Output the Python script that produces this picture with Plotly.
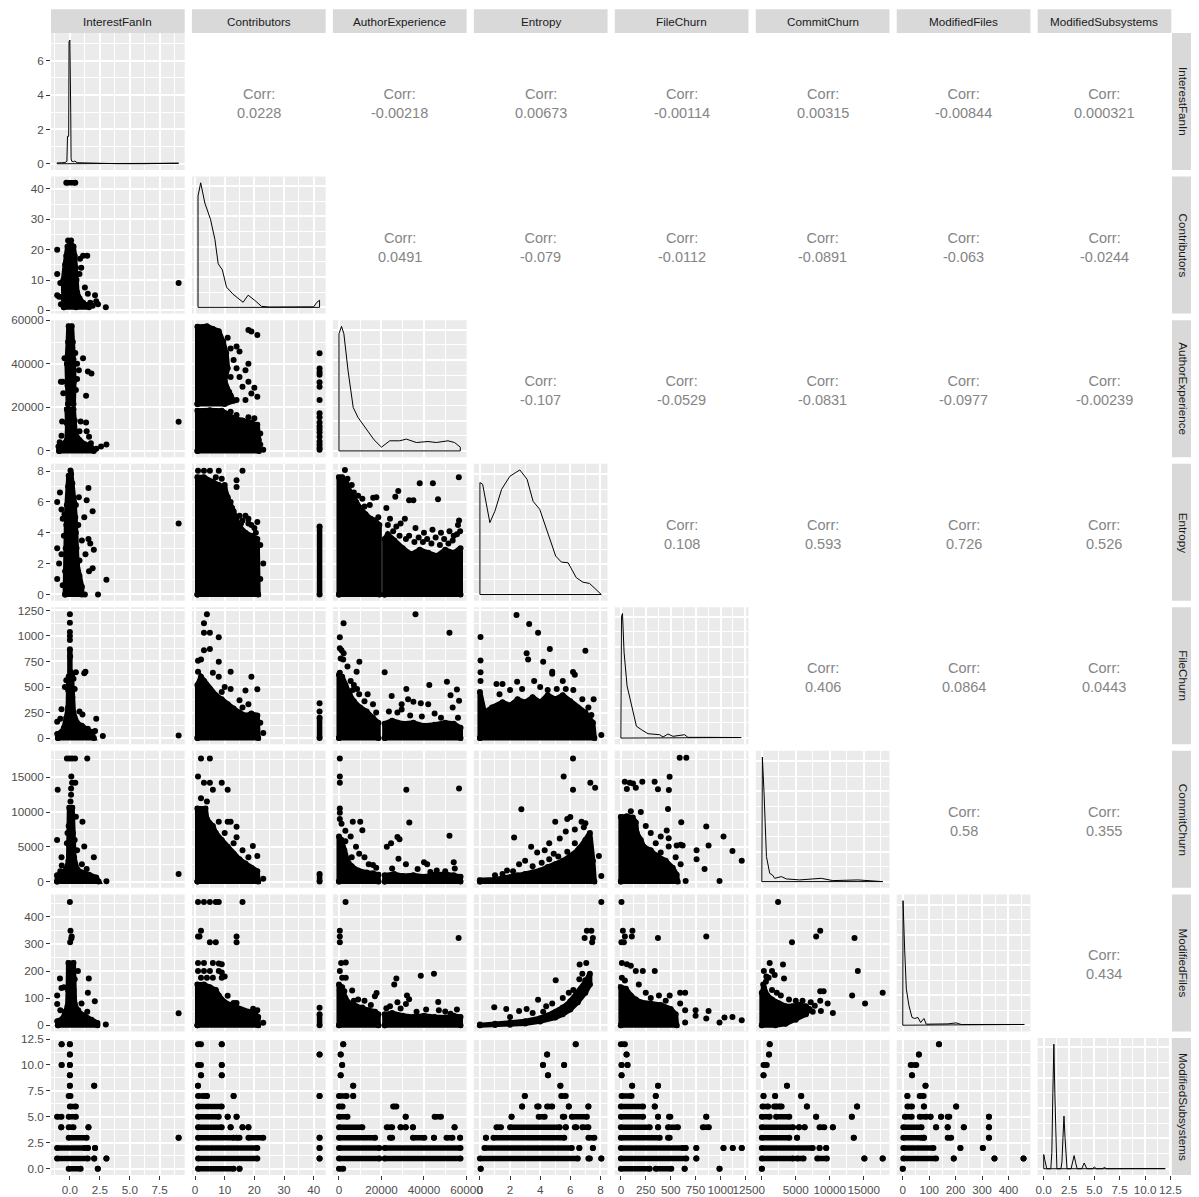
import plotly.graph_objects as go

# page offset of the plot div (default body margin) and figure size
OFF = 8.0
FW, FH = 1191, 1189

# ---------------- variables / scales ----------------
VARS = ["InterestFanIn", "Contributors", "AuthorExperience", "Entropy",
        "FileChurn", "CommitChurn", "ModifiedFiles", "ModifiedSubsystems"]
VAR_MIN = [-1.07, 1, 0, 0, 0, 0, 0, 0]
VAR_MAX = [9.08, 42, 57200, 8.07, 1220, 17900, 460, 12]
MAJOR = [2.5, 10, 20000, 2, 250, 5000, 100, 2.5]
TICKFMT = [".1f", "d", "d", "d", "d", "d", "d", ".1f"]

# ---------------- correlations (upper triangle, row by row) ----------------
corr_row0 = ["0.0228", "-0.00218", "0.00673", "-0.00114", "0.00315", "-0.00844", "0.000321"]
corr_row1 = ["0.0491", "-0.079", "-0.0112", "-0.0891", "-0.063", "-0.0244"]
corr_row2 = ["-0.107", "-0.0529", "-0.0831", "-0.0977", "-0.00239"]
corr_row3 = ["0.108", "0.593", "0.726", "0.526"]
corr_row4 = ["0.406", "0.0864", "0.0443"]
corr_row5 = ["0.58", "0.355"]
corr_row6 = ["0.434"]

# ---------------- diagonal densities ----------------
dens_I_x = [-1.07, -0.7, -0.4, -0.25, -0.2, -0.1, -0.07, 0.0, 0.02, 0.07, 0.1, 0.15, 0.3, 0.42, 0.6, 1.0,
            1.5, 2.0, 2.5, 3.0, 4.0, 6.0, 8.5, 8.9, 9.08]
dens_I_y = [0.05, 0.06, 0.07, 0.15, 1.6, 1.6, 7.1, 7.2, 3.1, 3.0, 0.3, 0.15, 0.12, 0.16, 0.06, 0.05,
            0.05, 0.04, 0.02, 0.01, 0.005, 0.003, 0.003, 0.03, 0.03]
dens_C_x = [1, 1.9, 3.3, 5.2, 6.7, 7.8, 9.2, 10.6, 12.8, 16.2, 17.9, 20.1, 22.4, 25, 30, 35, 40, 41.1, 42]
dens_C_y = [110, 123, 103, 87, 67, 43, 37, 20, 13, 5, 12, 7, 1, 0.3, 0.2, 0.2, 0.5, 5, 7]
dens_A_x = [0, 1200, 2300, 4300, 6700, 9000, 13700, 16500, 20000, 23900, 28600, 31700, 36400, 41900,
            45800, 51300, 54400, 57100]
dens_A_y = [116, 123.3, 116, 79, 43, 33, 19, 11, 3.7, 10, 10, 11.7, 8.3, 9.3, 8.3, 10, 8.3, 3.7]
dens_E_x = [0, 0.18, 0.4, 0.66, 0.99, 1.44, 1.99, 2.65, 3.13, 3.53, 3.97, 4.52, 5.03, 5.41, 5.85, 6.40,
            6.84, 7.28, 7.73, 8.06]
dens_E_y = [111.7, 110, 92, 71.7, 83, 105, 118, 124.3, 115, 93, 85, 61.7, 38.3, 32.3, 31.7, 16.7,
            12.3, 11, 5, 1]
dens_F_x = [0, 6, 16, 32, 62, 106, 156, 206, 272, 390, 423, 473, 523, 640, 673, 857, 1040, 1208]
dens_F_y = [110, 120, 123.3, 85, 51.7, 31.7, 11.7, 8.3, 4.3, 3.3, 1, 4, 1.7, 3.3, 0.7, 0.7, 0.7, 0.5]
dens_K_x = [0, 80, 330, 680, 1160, 1550, 1900, 2880, 3610, 5570, 8760, 10460, 14130, 17800]
dens_K_y = [121.7, 124.3, 88, 25, 8.3, 6.7, 3.3, 5, 2.7, 1.7, 3.3, 1, 1.7, 0.7]
dens_M_x = [0, 1, 7, 13.5, 23.5, 35, 45, 57.5, 67.6, 80, 89, 133, 171, 202, 221, 303, 322, 460]
dens_M_y = [99, 124.3, 76, 36, 19.3, 7.7, 6.7, 7.7, 2.7, 6.7, 1, 1, 1.3, 2.3, 0.7, 0.7, 0.7, 0.7]
dens_S_x = [0, 0.1, 0.2, 0.3, 0.7, 0.8, 0.9, 1.0, 1.1, 1.2, 1.3, 1.7, 1.8, 1.9, 2.0, 2.1, 2.2, 2.3,
            2.7, 2.85, 3.0, 3.15, 3.3, 3.75, 4.0, 4.25, 4.8, 5.0, 5.2, 5.8, 6.0, 6.2, 7, 9, 12]
dens_S_y = [14, 9, 2, 0, 0, 16, 74, 123, 74, 16, 0, 0, 7, 31, 52, 31, 7, 0,
            0, 6, 13, 6, 0, 0, 5.7, 0, 0, 1.7, 0, 0, 1.3, 0, 0.2, 0.1, 0.1]

# ---------------- lower panels: dense clouds (polygons), single points, bars ----------------
# row Contributors / col InterestFanIn
C_I_blob = [(-0.5, 1), (-0.55, 4), (-0.55, 10), (-0.4, 15), (-0.3, 18), (-0.2, 21), (0.05, 22), (0.3, 21),
            (0.4, 18), (0.5, 14), (0.55, 10), (0.6, 6), (0.8, 4), (1.1, 2.5), (1.4, 1.8), (1.6, 1), (0.5, 1)]
C_I_pts = [(-1.06, 20), (-1.06, 12), (-0.8, 9), (-1.06, 5), (-0.9, 4.5), (-0.75, 2), (-0.15, 23), (0.1, 23),
           (1.1, 18), (1.45, 18), (0.95, 14), (1.25, 7.5), (1.5, 5.5), (2.1, 5), (2.2, 3), (2.35, 2), (3.0, 1),
           (9.08, 9), (0.8, 12), (0.85, 17), (1.9, 1.5), (1.7, 2.5)]
C_I_hbar = [(42, -0.3, 0.45)]

# row AuthorExperience / col InterestFanIn
A_I_blob1 = [(-0.15, 21500), (-0.2, 30000), (-0.25, 40000), (-0.15, 50000), (-0.1, 57200), (0.15, 57200),
             (0.25, 50000), (0.3, 42000), (0.35, 32000), (0.3, 21500)]
A_I_blob2 = [(-0.9, 0), (-0.95, 2000), (-0.6, 3000), (-0.25, 5000), (-0.2, 12000), (-0.25, 19000), (0.3, 19000),
             (0.4, 14000), (0.45, 8000), (0.8, 5000), (1.3, 3000), (1.8, 1500), (2.0, 0)]
A_I_pts = [(-0.45, 42500), (1.1, 42500), (1.5, 36500), (1.8, 35500), (-0.75, 31800), (-0.6, 31800),
           (-0.55, 26500), (1.35, 25300), (0.6, 33000), (0.75, 37000), (0.5, 28000), (0.45, 45000),
           (0.6, 40000), (-0.65, 13500), (-0.3, 13000), (1.35, 13000), (0.9, 13500), (1.4, 9000),
           (1.6, 6500), (1.75, 3500), (2.2, 1000), (3.05, 3000), (2.6, 2000), (9.08, 13400), (0.8, 9000),
           (-0.7, 7000), (-0.85, 4000)]

# row Entropy / col InterestFanIn
E_I_blob = [(-0.4, 0), (-0.4, 1.5), (-0.35, 3), (-0.3, 4.5), (-0.25, 5.8), (-0.15, 7.0), (-0.1, 7.7), (0.1, 7.8),
            (0.2, 7.2), (0.35, 6.0), (0.45, 5.0), (0.5, 4.0), (0.55, 3.0), (0.6, 2.0), (0.8, 1.2), (1.0, 0.5),
            (1.0, 0)]
E_I_pts = [(0.05, 8.04), (-1.06, 6.0), (-0.83, 6.6), (-0.7, 5.5), (-0.6, 4.9), (-1.06, 3.0), (-0.7, 2.6),
           (-0.9, 2.0), (-1.06, 1.0), (-0.6, 0.6), (1.55, 6.9), (1.4, 6.1), (1.9, 5.4), (1.2, 5.0), (1.7, 3.3),
           (2.0, 2.9), (1.55, 3.6), (1.3, 2.6), (1.9, 1.7), (1.6, 1.5), (3.05, 0.95), (2.35, 0), (1.25, 0),
           (9.08, 4.6), (0.5, 5.8), (1.0, 3.5), (0.7, 4.5), (0.8, 2.2), (0.75, 6.3), (-0.5, 3.8), (-0.45, 5.2)]

# row FileChurn / col InterestFanIn
F_I_blob = [(-1.0, 0), (-1.05, 40), (-0.7, 60), (-0.5, 100), (-0.3, 200), (-0.15, 300), (-0.12, 500),
            (-0.1, 600), (0.15, 600), (0.2, 400), (0.3, 250), (0.6, 150), (1.0, 120), (1.5, 90), (1.8, 60),
            (2.0, 0)]
F_I_pts = [(0, 1212), (0, 1130), (0, 1040), (0, 1000), (0, 960), (0.02, 800), (0.05, 650), (0.2, 630),
           (0.5, 644), (1.3, 650), (1.2, 635), (-0.15, 470), (-0.3, 565), (-0.42, 500), (-1.06, 160),
           (-0.7, 282), (-0.8, 190), (0.8, 260), (1.05, 230), (2.2, 190), (1.9, 50), (2.1, 70), (2.75, 20),
           (9.08, 25), (0.4, 480), (0.3, 580)]
F_I_vbar = [(0.0, 600, 870)]

# row CommitChurn / col InterestFanIn
K_I_blob = [(-1.07, 0), (-1.07, 900), (-0.7, 1200), (-0.3, 1800), (-0.12, 3000), (-0.1, 8000), (-0.05, 10600),
            (0.2, 10600), (0.25, 7000), (0.35, 3500), (0.6, 1800), (1.0, 1300), (1.6, 1000), (2.2, 600),
            (2.4, 0)]
K_I_pts = [(-0.25, 17700), (-0.03, 17700), (0.18, 17700), (0.43, 17700), (1.45, 17700), (0.1, 12500),
           (0.05, 11500), (0.1, 13400), (0.12, 15100), (0.18, 14200), (0.45, 14200), (-1.02, 13200),
           (0.5, 9340), (1.05, 8620), (-0.2, 7000), (-0.25, 5500), (-1.07, 6000), (1.2, 5030), (2.0, 3500),
           (-0.7, 3500), (-0.68, 2300), (3.05, 50), (9.08, 1100), (0.4, 6000), (0.6, 4500), (1.0, 2500),
           (1.4, 1800), (-0.8, 1500)]

# row ModifiedFiles / col InterestFanIn
M_I_blob = [(-1.0, 0), (-1.05, 15), (-0.6, 25), (-0.4, 50), (-0.2, 70), (-0.15, 130), (-0.12, 230), (0.3, 230),
            (0.3, 130), (0.4, 80), (0.7, 50), (1.2, 35), (1.8, 20), (2.3, 8), (2.3, 0)]
M_I_pts = [(0, 455), (0.05, 349), (0.15, 328), (0.02, 306), (0.12, 320), (-0.83, 172), (-0.7, 137),
           (-1.06, 110), (0.67, 200), (1.58, 172), (1.5, 120), (2.08, 88), (0.97, 80), (0.7, 55), (1.45, 50),
           (-1.06, 78), (-0.5, 140), (0.4, 170), (3.0, 3), (9.08, 44), (1.0, 25), (-0.8, 55), (0.3, 100)]

# row ModifiedSubsystems / col InterestFanIn  (value, from, to)
S_I_hbar = [(12, -0.69, -0.69), (12, 0, 0), (11, 0, 0), (10, -0.69, -0.69), (10, 0, 0), (9, 0, 0), (8, 0, 0),
            (8, 2.03, 2.03), (7, -0.1, 0.05), (6, 0, 0.5), (5, -1.07, -0.7), (5, -0.1, 0.5), (4, -0.72, -0.72),
            (4, -0.1, 0.3), (4, 1.55, 1.55), (3, -0.1, 1.4), (3, 9.08, 9.08), (2, -1.07, 1.25), (2, 1.5, 1.5),
            (2, 2.1, 2.1), (1, -1.07, 1.5), (1, 2.03, 2.03), (1, 3.05, 3.05), (0, -0.1, 0.9), (0, 2.33, 2.33)]

# row AuthorExperience / col Contributors
A_C_blob1 = [(0.8, 21500), (0.8, 57000), (4, 57200), (6, 56000), (8, 55000), (9.5, 50000), (10.5, 45000),
             (11, 38000), (10, 32000), (11.5, 27000), (13, 23000), (10, 21500)]
A_C_blob2 = [(0.8, 0), (0.8, 18500), (5, 18700), (9, 18500), (11, 17000), (13, 15000), (16, 14000), (19, 13000),
             (21, 12000), (21.5, 5000), (21.5, 0)]
A_C_pts = [(12, 47000), (13, 41800), (15, 45600), (14, 47900), (18, 55500), (19, 54800), (21, 53200),
           (12, 34000), (15, 34000), (16, 29500), (18, 31800), (19, 26400), (21, 24900), (12, 25500),
           (14, 23400), (17, 23400), (20, 29000), (17, 37000), (11, 52000), (14, 38000), (18, 40000), (23, 500),
           (12, 18000), (14, 16500), (18, 15500), (20, 15000), (22, 8000), (22, 3000),
           (42, 44800), (42, 37900), (42, 36200), (42, 35000), (42, 31500), (42, 29500), (42, 23400),
           (42, 17300), (42, 15500), (42, 13000), (42, 11300), (42, 10000), (42, 8500), (42, 6500),
           (42, 4300), (42, 3000), (42, 1500), (42, 500)]

# row Entropy / col Contributors
E_C_blob = [(0.8, 0), (0.8, 7.6), (3, 7.6), (6, 7.3), (8, 7.1), (10, 6.9), (11, 6.3), (12.5, 5.6), (14, 5.0),
            (15, 4.4), (17, 4.0), (19, 3.8), (21, 3.6), (21.3, 0)]
E_C_pts = [(1, 8.02), (3, 8.02), (5, 8.02), (8, 8.02), (16, 8.02), (14, 7.4), (14, 6.97), (11, 6.1), (12, 6.0),
           (13, 5.4), (15, 5.1), (17, 5.1), (18, 4.9), (21, 4.7), (23, 2.0), (22, 3.2), (22, 1.0), (9, 7.5),
           (7, 7.6), (10, 7.1), (16, 4.8), (18, 4.6), (20, 4.3), (19, 4.5), (15.5, 4.6), (20.5, 4.0)]
E_C_vbar = [(42, 0, 4.4)]

# row FileChurn / col Contributors
F_C_blob = [(0.8, 0), (0.8, 520), (2, 600), (3, 560), (5, 480), (7, 420), (9, 380), (11, 330), (13, 290),
            (15, 250), (17, 220), (19, 240), (21, 220), (21.3, 0)]
F_C_pts = [(4, 1212), (3, 1124), (3, 1032), (5, 1032), (8, 987), (5, 873), (3, 860), (1, 758), (2, 770),
           (8, 748), (12, 650), (8, 600), (19, 601), (21, 478), (17, 465), (15, 370), (10, 500), (12, 480),
           (6, 640), (1, 650), (23, 50), (22, 150), (16, 300), (18, 330), (9, 450), (42, 341), (42, 260)]
F_C_vbar = [(42, 0, 200)]

# row CommitChurn / col Contributors
K_C_blob = [(0.8, 0), (0.8, 10500), (3.5, 10500), (4, 9000), (6, 8000), (7, 7000), (9, 6000), (11, 5000),
            (13, 4000), (15, 3200), (17, 2600), (19, 2000), (21, 1500), (21.3, 0)]
K_C_pts = [(2, 17700), (5, 17700), (1, 15100), (3, 14200), (5, 14200), (6, 13200), (9, 14200), (11, 13200),
           (8, 8600), (11, 8620), (12, 8620), (14, 7900), (14, 6380), (19.5, 5130), (21, 3690), (23, 430),
           (16, 4500), (18, 3500), (10, 7000), (13, 5500), (4, 11500), (2, 12000)]
K_C_vbar = [(42, 0, 1100)]

# row ModifiedFiles / col Contributors
M_C_blob = [(0.8, 0), (0.8, 150), (3, 150), (5, 140), (7, 130), (8, 110), (10, 85), (12, 75), (15, 60),
            (18, 50), (20, 45), (21.3, 30), (21.3, 0)]
M_C_pts = [(1, 455), (3, 455), (5, 455), (7, 455), (8, 455), (16, 455), (2, 349), (1, 328), (1.5, 328),
           (5, 306), (7, 306), (14, 328), (14, 306), (1, 230), (3, 230), (6, 230), (8, 228), (9, 225),
           (1, 200), (3, 200), (5, 200), (8, 200), (9, 195), (2, 175), (4, 175), (6, 175), (9, 175),
           (10, 180), (11, 109), (13, 82), (14, 82), (19.6, 61), (23, 9), (21, 55), (42, 64)]
M_C_vbar = [(42, 0, 40)]

# row ModifiedSubsystems / col Contributors
S_C_hbar = [(12, 1, 2), (12, 9, 9), (11, 42, 42), (10, 1, 2), (10, 9, 9), (9, 2, 2), (9, 9, 9), (8, 1, 1),
            (7, 1, 3), (7, 4, 4), (7, 13, 13), (7, 42, 42), (6, 1, 9), (5, 1, 8), (5, 11, 11), (5, 14, 14),
            (4, 1, 9), (4, 12, 12), (4, 16, 16), (4, 18, 18), (3, 1, 13), (3, 14, 15), (3, 18, 23),
            (3, 42, 42), (2, 1, 21), (2, 42, 42), (1, 1, 21), (1, 42, 42), (0, 1, 13), (0, 15, 15)]

# row Entropy / col AuthorExperience
E_A_blob1 = [(0, 0), (0, 7.6), (1500, 7.6), (3500, 7.2), (5500, 6.6), (8000, 6.0), (10000, 5.6), (12500, 5.2),
             (15000, 4.9), (17000, 4.8), (19000, 4.5), (19000, 0)]
E_A_blob2 = [(21500, 0), (21500, 3.6), (23000, 3.9), (26000, 3.5), (30000, 3.0), (34000, 2.6), (38000, 2.9),
             (42000, 2.7), (46000, 2.5), (50000, 2.9), (54000, 2.7), (57200, 3.0), (57200, 0)]
E_A_pts = [(2800, 8.06), (16100, 6.27), (17600, 6.3), (14500, 5.8), (12000, 5.7), (11000, 6.2), (7000, 6.6),
           (9000, 6.4), (18500, 5.0), (6000, 7.1), (4000, 7.5), (38000, 7.2), (44200, 7.2), (46600, 6.17),
           (56400, 7.6), (22300, 5.6), (26500, 6.34), (27900, 6.7), (33000, 6.1), (35000, 6.1), (56000, 4.5),
           (56500, 4.8), (24000, 4.9), (29000, 4.6), (31000, 4.9), (36000, 4.3), (40000, 4.0), (44000, 4.2),
           (48000, 4.0), (52000, 4.1), (54000, 3.8), (27000, 4.4), (33000, 3.8), (23000, 4.5), (25500, 4.1),
           (28500, 3.8), (31500, 3.6), (35500, 3.4), (37500, 3.7), (39500, 3.4), (41500, 3.6), (43500, 3.3),
           (45500, 3.7), (47500, 3.2), (49500, 3.6), (51500, 3.3), (53500, 3.5), (55500, 3.9), (57000, 4.1)]

# row FileChurn / col AuthorExperience
F_A_blob1 = [(0, 0), (0, 620), (1500, 600), (3000, 520), (5000, 430), (7000, 360), (10000, 300), (13000, 260),
             (16000, 200), (18500, 150), (18500, 0)]
F_A_blob2 = [(21500, 0), (21500, 140), (25000, 170), (30000, 140), (35000, 150), (40000, 120), (45000, 130),
             (50000, 150), (54000, 140), (57200, 100), (57200, 0)]
F_A_pts = [(400, 987), (2160, 1124), (400, 880), (1200, 860), (2200, 830), (800, 780), (2000, 770),
           (9600, 748), (8300, 650), (21500, 645), (400, 640), (1000, 570), (5500, 560), (7000, 520),
           (8500, 480), (6500, 470), (9500, 430), (13500, 430), (4000, 700), (16000, 330), (12000, 360),
           (17500, 250), (36000, 1212), (52000, 1032), (24800, 412), (31700, 480), (29500, 330), (29500, 280),
           (32500, 380), (35000, 355), (38500, 340), (42000, 330), (42500, 520), (50800, 552), (55500, 475),
           (56500, 365), (52500, 420), (53500, 300), (27500, 250), (33500, 220), (45000, 240), (48000, 200),
           (39000, 210), (23500, 260), (56000, 200)]

# row CommitChurn / col AuthorExperience
K_A_blob1 = [(0, 0), (0, 6500), (1200, 6000), (2500, 4500), (4000, 3000), (6000, 2200), (9000, 1600),
             (13000, 1300), (16000, 1200), (18500, 1000), (18500, 0)]
K_A_blob2 = [(21500, 0), (21500, 900), (26000, 1100), (30000, 800), (35000, 900), (40000, 700), (45000, 1000),
             (50000, 1100), (54000, 900), (57200, 700), (57200, 0)]
K_A_pts = [(400, 17700), (400, 15100), (400, 14200), (400, 10500), (400, 9900), (400, 9000), (1200, 8300),
           (6500, 8600), (10000, 8600), (11000, 7400), (3000, 7300), (5500, 6500), (8000, 5000), (9500, 4000),
           (12000, 3500), (14000, 2500), (16000, 2400), (17500, 2000), (3000, 5800), (6000, 3500),
           (31700, 13200), (56500, 13400), (33100, 8480), (52000, 6600), (22500, 5000), (24500, 5500),
           (27500, 6400), (28500, 6100), (28000, 3300), (31500, 2500), (40000, 2800), (41500, 2500),
           (54000, 2800), (54500, 1900), (37000, 1800), (46000, 1600), (25000, 1900), (50000, 1500),
           (43000, 1400)]

# row ModifiedFiles / col AuthorExperience
M_A_blob1 = [(0, 0), (0, 150), (1500, 140), (3000, 100), (5000, 80), (8000, 70), (11000, 65), (14000, 55),
             (17000, 50), (18500, 40), (18500, 0)]
M_A_blob2 = [(21500, 0), (21500, 40), (25000, 45), (30000, 35), (35000, 30), (40000, 35), (45000, 30),
             (50000, 28), (54000, 35), (57200, 30), (57200, 0)]
M_A_pts = [(3100, 455), (400, 349), (400, 328), (400, 306), (1000, 230), (3200, 232), (400, 200), (1500, 175),
           (3200, 175), (6200, 128), (400, 128), (16900, 107), (17700, 119), (12000, 90), (9000, 95),
           (2500, 125), (7000, 90), (15000, 75), (56300, 322), (27000, 172), (26000, 150), (38500, 183),
           (44700, 190), (32000, 110), (33000, 96), (46700, 86), (50000, 51), (22300, 63), (29000, 62),
           (24000, 70), (41000, 58), (55500, 58), (47000, 55), (36500, 50), (52500, 42), (31500, 78),
           (27500, 85)]

# row ModifiedSubsystems / col AuthorExperience
S_A_hbar = [(12, 2000, 2000), (11, 800, 800), (10, 1500, 1500), (9, 800, 800), (8, 6700, 6700),
            (7, 0, 3600), (7, 6700, 6700), (6, 0, 1700), (6, 25500, 27000), (5, 0, 4000), (5, 31400, 31400),
            (5, 45000, 48000), (4, 0, 11000), (4, 22500, 25000), (4, 29000, 29000), (4, 31400, 31400),
            (4, 34800, 34800), (4, 54400, 54400), (3, 0, 17000), (3, 24000, 25000), (3, 34800, 40200),
            (3, 44700, 44700), (3, 50600, 53400), (3, 57000, 57000), (2, 0, 19000), (2, 21500, 57200),
            (1, 0, 19000), (1, 21500, 57200), (0, 0, 2000)]

# row FileChurn / col Entropy
F_E_blob = [(0, 0), (0, 450), (0.3, 250), (0.8, 300), (1.5, 350), (2.0, 320), (2.5, 380), (3.0, 350),
            (3.5, 400), (4.0, 350), (4.5, 420), (5.0, 380), (5.5, 420), (6.0, 360), (6.5, 300), (7.0, 250),
            (7.5, 150), (7.6, 0)]
F_E_pts = [(2.43, 1205), (3.27, 1117), (3.86, 1032), (0.04, 990), (4.64, 873), (7.0, 856), (3.1, 830),
           (3.2, 770), (4.2, 748), (0.04, 644), (4.8, 650), (4.8, 630), (6.18, 648), (2.47, 552), (1.1, 530),
           (1.5, 530), (3.6, 560), (4.0, 500), (4.5, 470), (5.1, 480), (5.7, 480), (6.2, 470), (6.3, 620),
           (5.5, 560), (0.04, 560), (0.04, 760), (7.55, 380), (7.2, 300), (7.4, 225), (8.06, 30), (2.0, 470),
           (2.8, 480), (1.3, 430), (6.8, 380)]

# row CommitChurn / col Entropy
K_E_blob = [(0, 0), (0, 200), (1.0, 300), (2.0, 600), (2.5, 900), (3.0, 1100), (3.5, 1300), (4.0, 1600),
            (4.5, 2100), (5.0, 2500), (5.5, 3000), (6.0, 3700), (6.5, 4500), (7.0, 6000), (7.3, 7000),
            (7.5, 3000), (7.6, 0)]
K_E_pts = [(6.18, 17700), (5.56, 15100), (6.18, 13200), (7.33, 14200), (7.65, 13500), (2.75, 10400),
           (2.27, 6330), (6.75, 8620), (5.0, 8620), (5.8, 9000), (6.0, 9300), (6.6, 4800), (7.2, 3700),
           (7.9, 3700), (3.4, 5000), (3.8, 4200), (4.3, 4500), (4.6, 5500), (5.3, 6200), (5.7, 7200),
           (6.3, 7500), (6.9, 7800), (7.0, 8400), (4.9, 4000), (3.0, 3000), (2.6, 2500), (1.8, 1600),
           (1.0, 900), (1.5, 1100), (8.06, 800), (3.5, 2200), (4.1, 2700), (4.6, 3200), (5.2, 3600),
           (5.8, 4300), (6.3, 5500), (2.2, 1500)]

# row ModifiedFiles / col Entropy
M_E_blob = [(0, 0), (1, 0.5), (2, 2), (3, 6), (4, 14), (5, 28), (5.5, 40), (6, 58), (6.5, 85), (7, 120),
            (7.3, 150), (7.3, 190), (7.0, 160), (6.5, 120), (6, 88), (5.5, 65), (5, 48), (4.5, 36), (4, 26),
            (3, 15), (2, 9), (1, 5), (0, 3)]
M_E_pts = [(0.95, 66), (1.75, 60), (2.6, 52), (3.1, 60), (3.86, 94), (5.03, 166), (6.62, 224), (7.06, 230),
           (7.0, 166), (6.95, 322), (7.1, 349), (7.4, 349), (7.5, 322), (7.45, 306), (8.06, 455), (4.4, 70),
           (4.8, 80), (5.5, 100), (6.2, 130), (6.6, 170), (6.8, 190), (5.9, 120), (3.5, 45), (2.0, 30),
           (4.2, 50)]

# row ModifiedSubsystems / col Entropy
S_E_hbar = [(12, 6.36, 6.36), (11, 4.46, 4.46), (10, 4.19, 4.19), (10, 5.59, 5.59), (9, 4.52, 4.52),
            (8, 5.34, 5.34), (7, 2.98, 2.98), (7, 5.4, 5.7), (6, 2.8, 2.8), (6, 3.8, 3.9), (6, 4.46, 4.8),
            (6, 5.9, 5.9), (6, 7.2, 7.2), (5, 2.1, 2.1), (5, 3.9, 4.3), (5, 5.5, 5.6), (5, 6.1, 7.1),
            (4, 1.1, 1.4), (4, 2.0, 5.3), (4, 5.7, 5.7), (4, 6.3, 6.4), (4, 6.8, 7.2), (3, 0.4, 0.4),
            (3, 0.9, 5.6), (3, 7.2, 7.6), (2, 0.3, 6.1), (2, 6.6, 6.6), (2, 7.5, 7.5), (1, 0, 6.5),
            (1, 7.2, 7.3), (1, 8.06, 8.06), (0, 0.05, 0.05)]

# row CommitChurn / col FileChurn
K_F_blob = [(0, 0), (0, 9300), (60, 9400), (120, 9200), (150, 8500), (160, 7000), (200, 6000), (230, 5000),
            (300, 4500), (350, 3800), (450, 3000), (520, 2000), (560, 1000), (570, 0)]
K_F_pts = [(590, 17800), (657, 17800), (39, 14370), (89, 14200), (122, 14100), (215, 14370), (339, 14370),
           (372, 13280), (489, 15090), (482, 13180), (150, 13500), (60, 13300), (473, 10450), (606, 8540),
           (857, 7910), (460, 7330), (480, 6240), (480, 5030), (560, 5200), (600, 5300), (620, 5200),
           (880, 5200), (760, 4500), (760, 3230), (840, 1800), (1030, 6500), (1120, 4400), (1213, 3000),
           (650, 100), (990, 100), (300, 7000), (250, 8000), (350, 5500), (400, 4200), (600, 2500),
           (200, 10000), (100, 10100), (400, 6500), (550, 3500)]

# row ModifiedFiles / col FileChurn
M_F_blob = [(0, 0), (0, 140), (50, 135), (100, 110), (150, 95), (200, 85), (300, 80), (400, 75), (500, 60),
            (550, 40), (560, 0)]
M_F_pts = [(6, 455), (20, 349), (40, 328), (116, 349), (110, 328), (30, 306), (5, 306), (372, 322),
           (857, 328), (10, 230), (60, 225), (100, 220), (150, 200), (220, 200), (340, 200), (10, 175),
           (40, 165), (382, 110), (490, 110), (595, 120), (645, 120), (595, 80), (645, 55), (750, 55),
           (750, 35), (857, 25), (880, 52), (990, 10), (1040, 28), (1120, 30), (1213, 18), (645, 10),
           (300, 100), (250, 120), (180, 150), (450, 90)]

# row ModifiedSubsystems / col FileChurn
S_F_hbar = [(12, 0, 40), (11, 57, 57), (10, 7, 7), (10, 67, 67), (9, 7, 7), (8, 113, 113), (8, 373, 373),
            (7, 7, 107), (7, 350, 350), (6, 0, 223), (6, 340, 340), (5, 0, 223), (5, 373, 373),
            (5, 483, 497), (5, 857, 857), (4, 0, 290), (4, 373, 373), (4, 473, 573), (4, 823, 883),
            (3, 0, 390), (3, 473, 490), (2, 0, 623), (2, 650, 650), (2, 757, 757), (2, 1030, 1030),
            (2, 1123, 1123), (2, 1213, 1213), (1, 0, 657), (1, 757, 757), (0, 0, 290), (0, 350, 506),
            (0, 640, 640), (0, 990, 990)]

# row ModifiedFiles / col CommitChurn
M_K_blob = [(0, 0), (0, 120), (300, 140), (800, 110), (1500, 95), (2500, 80), (3500, 70), (4500, 70),
            (5500, 75), (6500, 70), (7000, 60), (6500, 40), (5000, 20), (3500, 5), (2000, 0)]
M_K_pts = [(2390, 455), (8000, 328), (8600, 349), (13650, 322), (4440, 306), (1160, 230), (3120, 224),
           (3270, 172), (14140, 200), (660, 180), (1000, 175), (1890, 185), (13300, 110), (15200, 80),
           (17800, 120), (8600, 125), (9100, 125), (8600, 90), (9700, 80), (8700, 52), (10460, 45),
           (200, 150), (600, 160), (1500, 130), (2200, 120), (2800, 110), (4000, 95), (5000, 90), (6000, 90),
           (7200, 85), (7800, 72), (7500, 50), (6000, 45), (1500, 200), (300, 200)]

# row ModifiedSubsystems / col CommitChurn
S_K_hbar = [(12, 1160, 1160), (11, 1060, 1060), (10, 250, 730), (9, 250, 250), (8, 3700, 3700),
            (7, 250, 250), (7, 1960, 1960), (7, 5800, 5800), (6, 100, 930), (6, 1810, 2200), (6, 2540, 2920),
            (6, 6640, 6640), (6, 14030, 14030), (5, 0, 1160), (5, 2100, 4050), (5, 8000, 8000),
            (5, 13250, 13250), (4, 0, 4600), (4, 5480, 5480), (4, 6300, 6300), (4, 8500, 9200),
            (4, 10460, 10460), (3, 0, 4050), (3, 5190, 5190), (3, 13540, 13540), (2, 0, 7500),
            (2, 8500, 8500), (2, 9480, 9480), (1, 0, 4600), (1, 5190, 6150), (1, 8160, 9580),
            (1, 15100, 15100), (1, 17800, 17800), (0, 0, 0)]

# row ModifiedSubsystems / col ModifiedFiles
S_M_hbar = [(12, 137, 137), (11, 61, 61), (10, 30, 51), (9, 35, 35), (8, 86, 86), (7, 17.5, 17.5),
            (7, 64, 79), (6, 17.5, 35), (6, 80, 80), (6, 202, 202), (5, 8, 34), (5, 64, 89), (5, 105, 105),
            (5, 145, 145), (5, 170, 176), (5, 326, 326), (4, 2, 71), (4, 126, 126), (4, 170, 170),
            (4, 231, 231), (4, 326, 326), (3, 2, 71), (3, 80, 80), (3, 170, 183), (3, 326, 326),
            (2, 2, 116), (2, 218, 218), (2, 303, 303), (1, 2, 126), (1, 193, 193), (1, 347, 347),
            (1, 457, 457), (0, 0, 0)]

# ---------------- assemble panels from the named arrays ----------------
LOWER = {
    (1, 0): dict(blobs=[C_I_blob], pts=C_I_pts, hbar=C_I_hbar),
    (2, 0): dict(blobs=[A_I_blob1, A_I_blob2], pts=A_I_pts),
    (3, 0): dict(blobs=[E_I_blob], pts=E_I_pts),
    (4, 0): dict(blobs=[F_I_blob], pts=F_I_pts, vbar=F_I_vbar),
    (5, 0): dict(blobs=[K_I_blob], pts=K_I_pts),
    (6, 0): dict(blobs=[M_I_blob], pts=M_I_pts),
    (7, 0): dict(hbar=S_I_hbar),
    (2, 1): dict(blobs=[A_C_blob1, A_C_blob2], pts=A_C_pts),
    (3, 1): dict(blobs=[E_C_blob], pts=E_C_pts, vbar=E_C_vbar),
    (4, 1): dict(blobs=[F_C_blob], pts=F_C_pts, vbar=F_C_vbar),
    (5, 1): dict(blobs=[K_C_blob], pts=K_C_pts, vbar=K_C_vbar),
    (6, 1): dict(blobs=[M_C_blob], pts=M_C_pts, vbar=M_C_vbar),
    (7, 1): dict(hbar=S_C_hbar),
    (3, 2): dict(blobs=[E_A_blob1, E_A_blob2], pts=E_A_pts),
    (4, 2): dict(blobs=[F_A_blob1, F_A_blob2], pts=F_A_pts),
    (5, 2): dict(blobs=[K_A_blob1, K_A_blob2], pts=K_A_pts),
    (6, 2): dict(blobs=[M_A_blob1, M_A_blob2], pts=M_A_pts),
    (7, 2): dict(hbar=S_A_hbar),
    (4, 3): dict(blobs=[F_E_blob], pts=F_E_pts),
    (5, 3): dict(blobs=[K_E_blob], pts=K_E_pts),
    (6, 3): dict(blobs=[M_E_blob], pts=M_E_pts),
    (7, 3): dict(hbar=S_E_hbar),
    (5, 4): dict(blobs=[K_F_blob], pts=K_F_pts),
    (6, 4): dict(blobs=[M_F_blob], pts=M_F_pts),
    (7, 4): dict(hbar=S_F_hbar),
    (6, 5): dict(blobs=[M_K_blob], pts=M_K_pts),
    (7, 5): dict(hbar=S_K_hbar),
    (7, 6): dict(hbar=S_M_hbar),
}
DIAG = [(dens_I_x, dens_I_y), (dens_C_x, dens_C_y), (dens_A_x, dens_A_y), (dens_E_x, dens_E_y),
        (dens_F_x, dens_F_y), (dens_K_x, dens_K_y), (dens_M_x, dens_M_y), (dens_S_x, dens_S_y)]
CORR_ROWS = [corr_row0, corr_row1, corr_row2, corr_row3, corr_row4, corr_row5, corr_row6]

# ---------------- geometry (page pixels) ----------------
COL_X0, COL_STEP, COL_W = 51.0, 140.95, 133.7
ROW_Y0, ROW_STEP, ROW_H = 33.0, 143.57, 137.0
FONT = "Liberation Sans, Arial, sans-serif"
DOT = 6
BARW = 5.5

fig = go.Figure()
shapes, annots = [], []


def px_x(x):
    return (x - OFF) / FW


def px_y(y):
    return 1 - (y - OFF) / FH


def rng(i):
    lo, hi = VAR_MIN[i], VAR_MAX[i]
    e = 0.05 * (hi - lo)
    return [lo - e, hi + e]


layout_axes = {}
for r in range(8):
    for c in range(8):
        k = r * 8 + c + 1
        xs = "" if k == 1 else str(k)
        x0 = COL_X0 + c * COL_STEP
        y0 = ROW_Y0 + r * ROW_STEP
        xd = [px_x(x0), px_x(x0 + COL_W)]
        yd = [px_y(y0 + ROW_H), px_y(y0)]
        upper = r < c
        gcol = "#DDDDDD" if upper else "white"
        gw = 1.3 if upper else 1.9

        def axis(var_range, dtick, fmt, showlab, dom, anchor):
            a = dict(domain=dom, anchor=anchor, range=var_range, tickmode="linear", tick0=0, dtick=dtick,
                     showgrid=True, gridcolor=gcol, gridwidth=gw, zeroline=False, showline=False,
                     automargin=False,
                     tickformat=fmt, showticklabels=showlab, ticks="outside" if showlab else "",
                     ticklen=4, tickwidth=1.05, tickcolor="#333333", tickangle=0,
                     tickfont=dict(family=FONT, size=11.7, color="#4D4D4D"), fixedrange=True)
            if not upper:
                a["minor"] = dict(tick0=0, dtick=dtick / 2, showgrid=True, gridcolor="white", gridwidth=0.95,
                                  ticks="")
            return a

        layout_axes["xaxis" + xs] = axis(rng(c), MAJOR[c], TICKFMT[c], r == 7, xd, "y" + xs)
        if r == c:
            dx, dy = DIAG[c]
            if c == 0:
                M, dt = 7.25, 2
            else:
                M, dt = max(dy), 30
            layout_axes["yaxis" + xs] = axis([-0.05 * M, 1.05 * M], dt, "d", c == 0, yd, "x" + xs)
        else:
            layout_axes["yaxis" + xs] = axis(rng(r), MAJOR[r], TICKFMT[r], c == 0, yd, "x" + xs)

        if not upper:
            shapes.append(dict(type="rect", xref="paper", yref="paper", x0=xd[0], x1=xd[1], y0=yd[0], y1=yd[1],
                               fillcolor="#EBEBEB", line=dict(width=0), layer="below"))

        xa, ya = "x" + xs, "y" + xs
        if r == c:
            dx, dy = DIAG[c]
            fig.add_trace(go.Scatter(x=[dx[0]] + dx + [dx[-1], dx[0]], y=[0] + dy + [0, 0], xaxis=xa, yaxis=ya,
                                     mode="lines", line=dict(color="black", width=1),
                                     hoverinfo="skip", showlegend=False))
        elif r > c:
            p = LOWER[(r, c)]
            for poly in p.get("blobs", []):
                fig.add_trace(go.Scatter(x=[q[0] for q in poly] + [poly[0][0]],
                                         y=[q[1] for q in poly] + [poly[0][1]],
                                         xaxis=xa, yaxis=ya, mode="lines+markers", fill="toself",
                                         fillcolor="black", line=dict(color="black", width=5),
                                         marker=dict(color="black", size=DOT), hoverinfo="skip",
                                         showlegend=False))
            if p.get("hbar"):
                bx, by = [], []
                for (v, a0, a1) in p["hbar"]:
                    bx += [a0, a1, None]
                    by += [v, v, None]
                fig.add_trace(go.Scatter(x=bx, y=by, xaxis=xa, yaxis=ya, mode="lines+markers",
                                         line=dict(color="black", width=BARW),
                                         marker=dict(color="black", size=DOT), hoverinfo="skip",
                                         showlegend=False))
            if p.get("vbar"):
                bx, by = [], []
                for (v, a0, a1) in p["vbar"]:
                    bx += [v, v, None]
                    by += [a0, a1, None]
                fig.add_trace(go.Scatter(x=bx, y=by, xaxis=xa, yaxis=ya, mode="lines+markers",
                                         line=dict(color="black", width=BARW),
                                         marker=dict(color="black", size=DOT), hoverinfo="skip",
                                         showlegend=False))
            if p.get("pts"):
                fig.add_trace(go.Scatter(x=[q[0] for q in p["pts"]], y=[q[1] for q in p["pts"]],
                                         xaxis=xa, yaxis=ya, mode="markers",
                                         marker=dict(color="black", size=DOT), hoverinfo="skip",
                                         showlegend=False))
        else:
            val = CORR_ROWS[r][c - r - 1]
            annots.append(dict(xref="paper", yref="paper", x=px_x(x0 + COL_W / 2), y=px_y(y0 + ROW_H / 2 + 2.0),
                               text="Corr:<br>" + val, showarrow=False, xanchor="center", yanchor="middle",
                               font=dict(family=FONT, size=14.5, color="#858585")))

# strips
for i, name in enumerate(VARS):
    x0 = COL_X0 + i * COL_STEP
    shapes.append(dict(type="rect", xref="paper", yref="paper", x0=px_x(x0), x1=px_x(x0 + COL_W),
                       y0=px_y(33), y1=px_y(9.3), fillcolor="#D9D9D9", line=dict(width=0), layer="below"))
    annots.append(dict(xref="paper", yref="paper", x=px_x(x0 + COL_W / 2), y=px_y(21.3), text=name,
                       showarrow=False, xanchor="center", yanchor="middle",
                       font=dict(family=FONT, size=11.7, color="#1A1A1A")))
    y0 = ROW_Y0 + i * ROW_STEP
    shapes.append(dict(type="rect", xref="paper", yref="paper", x0=px_x(1172), x1=px_x(1195),
                       y0=px_y(y0 + ROW_H), y1=px_y(y0), fillcolor="#D9D9D9", line=dict(width=0), layer="below"))
    annots.append(dict(xref="paper", yref="paper", x=px_x(1183.5), y=px_y(y0 + ROW_H / 2), text=name,
                       showarrow=False, xanchor="center", yanchor="middle", textangle=90,
                       font=dict(family=FONT, size=11.7, color="#1A1A1A")))

fig.update_layout(width=FW, height=FH, margin=dict(l=0, r=0, t=0, b=0, pad=0),
                  paper_bgcolor="white", plot_bgcolor="rgba(0,0,0,0)", showlegend=False,
                  shapes=shapes, annotations=annots, **layout_axes)

fig.write_html("out.html")
